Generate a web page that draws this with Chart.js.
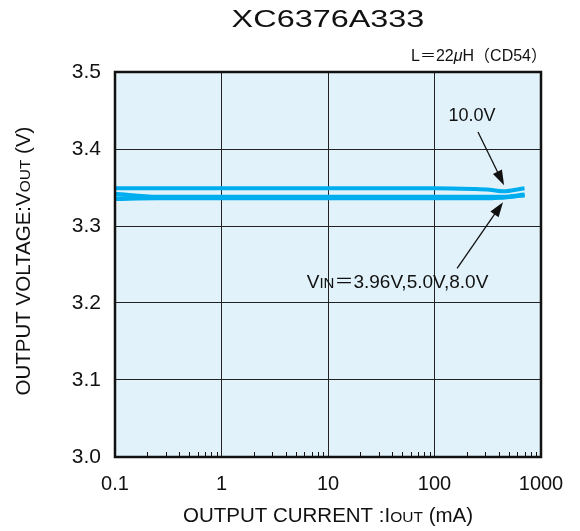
<html>
<head>
<title>XC6376A333</title>
<style>
* { margin: 0; padding: 0; }
body { background: #fff; }
</style>
<script src="https://cdn.jsdelivr.net/npm/chart.js"></script>
<script>
const FONT = '"Liberation Sans", Arial, sans-serif';
const CJK = '"Noto Sans CJK JP", "Liberation Sans", sans-serif';

// output current (mA)
const current = [0.1, 0.25, 1, 10, 100, 230, 330, 440, 700];
// output voltage (V) for each input voltage
const vout10 = [3.349, 3.349, 3.349, 3.349, 3.349, 3.348, 3.347, 3.345, 3.349];
const vout8 = [3.342, 3.338, 3.338, 3.338, 3.338, 3.338, 3.338, 3.338, 3.341];
const vout5 = [3.336, 3.337, 3.337, 3.337, 3.337, 3.337, 3.337, 3.337, 3.340];
const vout396 = [3.335, 3.336, 3.336, 3.336, 3.336, 3.336, 3.336, 3.337, 3.340];

const xTicks = [0.1, 1, 10, 100, 1000];
const yMin = 3.0, yMax = 3.5, yStep = 0.1;

const LINE = '#00aeef';

function pts(ys) {
	return current.map((c, i) => ({ x: c, y: ys[i] }));
}

// draw a run of text pieces one after another (for the small "OUT", "IN" etc)
function rich(ctx, parts, x, y, align) {
	let w = 0;
	parts.forEach(p => {
		ctx.font = (p.italic ? 'italic ' : '') + p.size + 'px ' + (p.font || FONT);
		p.w = ctx.measureText(p.t).width;
		w += p.w;
	});
	let cx = align === 'center' ? x - w / 2 : (align === 'right' ? x - w : x);
	ctx.textAlign = 'left';
	ctx.textBaseline = 'alphabetic';
	parts.forEach(p => {
		ctx.font = (p.italic ? 'italic ' : '') + p.size + 'px ' + (p.font || FONT);
		ctx.fillText(p.t, cx, y);
		cx += p.w;
	});
}

function arrow(ctx, x0, y0, x1, y1) {
	const ang = Math.atan2(y1 - y0, x1 - x0), len = 15, hw = 5;
	ctx.beginPath();
	ctx.moveTo(x0, y0);
	ctx.lineTo(x1 - Math.cos(ang) * len * 0.8, y1 - Math.sin(ang) * len * 0.8);
	ctx.stroke();
	ctx.beginPath();
	ctx.moveTo(x1, y1);
	ctx.lineTo(x1 - Math.cos(ang) * len - Math.sin(ang) * hw, y1 - Math.sin(ang) * len + Math.cos(ang) * hw);
	ctx.lineTo(x1 - Math.cos(ang) * len + Math.sin(ang) * hw, y1 - Math.sin(ang) * len - Math.cos(ang) * hw);
	ctx.closePath();
	ctx.fill();
}

const decor = {
	id: 'decor',
	beforeDraw(chart) {
		const { ctx, chartArea: a } = chart;
		ctx.save();
		ctx.fillStyle = '#e1f2fa';
		ctx.fillRect(a.left, a.top, a.right - a.left, a.bottom - a.top);
		ctx.restore();
	},
	afterDraw(chart) {
		const { ctx, chartArea: a, scales: { x, y } } = chart;
		ctx.save();
		ctx.strokeStyle = '#111';
		ctx.fillStyle = '#111';

		// minor ticks along the bottom
		ctx.lineWidth = 1;
		[0.1, 1, 10, 100].forEach(d => {
			for (let k = 2; k <= 9; k++) {
				const px = Math.round(x.getPixelForValue(d * k)) + 0.5;
				ctx.beginPath();
				ctx.moveTo(px, a.bottom);
				ctx.lineTo(px, a.bottom - 5);
				ctx.stroke();
			}
		});

		// frame
		ctx.lineWidth = 2.5;
		ctx.strokeRect(a.left, a.top, a.right - a.left, a.bottom - a.top);

		// title
		ctx.save();
		ctx.translate(328, 27);
		ctx.scale(1.35, 1);
		ctx.font = '24px ' + FONT;
		ctx.textAlign = 'center';
		ctx.textBaseline = 'alphabetic';
		ctx.fillText('XC6376A333', 0, 0);
		ctx.restore();

		// coil note
		rich(ctx, [
			{ t: 'L', size: 16 },
			{ t: '＝', size: 16, font: CJK },
			{ t: '22', size: 16 },
			{ t: 'μ', size: 16, italic: true },
			{ t: 'H', size: 16 },
			{ t: '（', size: 16, font: CJK },
			{ t: 'CD54', size: 16 },
			{ t: '）', size: 16, font: CJK }
		], 547, 61, 'right');

		// annotations
		rich(ctx, [{ t: '10.0V', size: 18 }], x.getPixelForValue(225), y.getPixelForValue(3.436), 'center');
		rich(ctx, [
			{ t: 'V', size: 19 },
			{ t: 'IN', size: 15 },
			{ t: '＝', size: 19, font: CJK },
			{ t: '3.96V,5.0V,8.0V', size: 19 }
		], x.getPixelForValue(45), y.getPixelForValue(3.2195), 'center');
		ctx.lineWidth = 1.3;
		arrow(ctx, x.getPixelForValue(256), y.getPixelForValue(3.422), x.getPixelForValue(450), y.getPixelForValue(3.353));
		arrow(ctx, x.getPixelForValue(163), y.getPixelForValue(3.245), x.getPixelForValue(440), y.getPixelForValue(3.331));

		// axis titles
		rich(ctx, [
			{ t: 'OUTPUT CURRENT :I', size: 20.5 },
			{ t: 'OUT', size: 15.5 },
			{ t: ' (mA)', size: 20.5 }
		], 328, 522, 'center');
		ctx.save();
		ctx.translate(30, 261);
		ctx.rotate(-Math.PI / 2);
		rich(ctx, [
			{ t: 'OUTPUT VOLTAGE:V', size: 20.5 },
			{ t: 'OUT', size: 15.5 },
			{ t: ' (V)', size: 20.5 }
		], 0, 0, 'center');
		ctx.restore();

		ctx.restore();
	}
};

function load()
{
	const ds = (label, ys) => ({
		label: label,
		data: pts(ys),
		borderColor: LINE,
		backgroundColor: LINE,
		borderWidth: 4,
		pointRadius: 0,
		cubicInterpolationMode: 'monotone',
		fill: false
	});

	new Chart(document.getElementById('myChart'), {
		type: 'line',
		data: {
			datasets: [
				ds('3.96V', vout396),
				ds('5.0V', vout5),
				ds('8.0V', vout8),
				ds('10.0V', vout10)
			]
		},
		options: {
			responsive: false,
			animation: false,
			layout: { padding: { top: 72, right: 39, left: 0, bottom: 0 } },
			plugins: { legend: { display: false }, tooltip: { enabled: false } },
			scales: {
				x: {
					type: 'logarithmic',
					min: 0.1,
					max: 1000,
					afterBuildTicks: s => { s.ticks = xTicks.map(v => ({ value: v })); },
					afterFit: s => { s.height = 74; },
					border: { display: false },
					grid: { color: '#222', lineWidth: 1, drawTicks: false },
					ticks: {
						padding: 15,
						maxRotation: 0,
						autoSkip: false,
						color: '#111',
						font: { family: FONT, size: 20 },
						callback: v => String(v)
					}
				},
				y: {
					min: yMin,
					max: yMax,
					afterFit: s => { s.width = 115; },
					border: { display: false },
					grid: { color: '#222', lineWidth: 1, drawTicks: false },
					ticks: {
						stepSize: yStep,
						padding: 14,
						color: '#111',
						font: { family: FONT, size: 21 },
						callback: v => v.toFixed(1)
					}
				}
			}
		},
		plugins: [decor]
	});
}
</script>
</head>
<body onload='load();'>
<canvas id="myChart" width="580" height="531"></canvas>
</body>
</html>
